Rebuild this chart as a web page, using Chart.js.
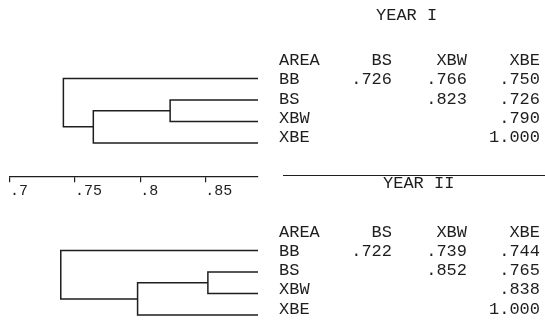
<!DOCTYPE html>
<html>
<head>
<meta charset="utf-8">
<script src="https://cdn.jsdelivr.net/npm/chart.js@4.4.1/dist/chart.umd.min.js"></script>
<style>
  html, body { margin: 0; padding: 0; background: #fff; }
  #box { width: 545px; height: 326px; }
</style>
</head>
<body>
<div id="box"><canvas id="chart" width="545" height="326"></canvas></div>
<script>
// Sampling areas, in dendrogram leaf order
const areas = ['BB', 'BS', 'XBW', 'XBE'];
const columnHeads = ['AREA', 'BS', 'XBW', 'XBE'];
const yearTitles = ['YEAR I', 'YEAR II'];

// Similarity matrices (upper triangle): rows BB..XBE, columns BS, XBW, XBE
const simYearI = [
  ['.726', '.766', '.750'],
  ['',     '.823', '.726'],
  ['',     '',     '.790'],
  ['',     '',     '1.000']
];
const simYearII = [
  ['.722', '.739', '.744'],
  ['',     '.852', '.765'],
  ['',     '',     '.838'],
  ['',     '',     '1.000']
];

// Clustering levels: BS+XBW, then +XBE, then +BB
const joinsYearI = [0.823, 0.764, 0.741];
const joinsYearII = [0.852, 0.798, 0.739];

// Similarity scale
const tickValues = [0.7, 0.75, 0.8, 0.85];
const tickLabels = ['.7', '.75', '.8', '.85'];

// Leaf rows of each dendrogram and the row the scale sits on
const firstLeafRow = [0, 8];
const scaleRow = 4.58;

const INK = '#1e1e1e';
const MONO = '"Liberation Mono", "DejaVu Sans Mono", monospace';

// One bracket per join: child A -> join level -> child B
function treeLinks(joins, r0) {
  const leaf = 1.0;
  const pairY = r0 + 1.5;
  const midY = (pairY + r0 + 3) / 2;
  return [
    [[leaf, r0 + 1], [joins[0], r0 + 1], [joins[0], r0 + 2], [leaf, r0 + 2]],
    [[joins[0], pairY], [joins[1], pairY], [joins[1], r0 + 3], [leaf, r0 + 3]],
    [[leaf, r0], [joins[2], r0], [joins[2], midY], [joins[1], midY]]
  ];
}

const links = treeLinks(joinsYearI, firstLeafRow[0]).concat(treeLinks(joinsYearII, firstLeafRow[1]));
const datasets = links.map(path => ({
  data: path.map(p => ({ x: p[0], y: p[1] })),
  showLine: true,
  borderColor: INK,
  borderWidth: 1.5,
  pointRadius: 0,
  tension: 0,
  borderJoinStyle: 'miter',
  borderCapStyle: 'butt'
}));

// Similarity tables to the right of each dendrogram
const tablePlugin = {
  id: 'simTables',
  afterDraw(chart) {
    const ctx = chart.ctx;
    ctx.save();
    ctx.fillStyle = INK;
    ctx.font = '17px ' + MONO;
    ctx.textBaseline = 'middle';
    const areaLeft = 279;
    const colRight = [0, 392, 467, 540];
    const rowGap = 19.3;
    const tables = [
      { title: yearTitles[0], tx: 376, ty: 15, top: 60.5, sims: simYearI },
      { title: yearTitles[1], tx: 383, ty: 183, top: 232, sims: simYearII }
    ];
    tables.forEach(t => {
      ctx.textAlign = 'left';
      ctx.fillText(t.title, t.tx, t.ty);
      ctx.fillText(columnHeads[0], areaLeft, t.top);
      ctx.textAlign = 'right';
      for (let c = 1; c < columnHeads.length; c++) ctx.fillText(columnHeads[c], colRight[c], t.top);
      areas.forEach((a, r) => {
        const y = t.top + (r + 1) * rowGap;
        ctx.textAlign = 'left';
        ctx.fillText(a, areaLeft, y);
        ctx.textAlign = 'right';
        t.sims[r].forEach((v, c) => { if (v) ctx.fillText(v, colRight[c + 1], y); });
      });
    });
    ctx.strokeStyle = INK;
    ctx.lineWidth = 1.2;
    ctx.beginPath();
    ctx.moveTo(283, 175.5);
    ctx.lineTo(545, 175.5);
    ctx.stroke();
    ctx.restore();
  }
};

new Chart(document.getElementById('chart'), {
  type: 'scatter',
  data: { datasets },
  options: {
    responsive: false,
    maintainAspectRatio: false,
    devicePixelRatio: 1,
    animation: false,
    events: [],
    layout: { padding: { left: 10, right: 287, top: 0, bottom: 0 } },
    plugins: { legend: { display: false }, tooltip: { enabled: false }, title: { display: false } },
    scales: {
      x: {
        type: 'linear',
        min: 0.7,
        max: 0.8905,
        position: { y: scaleRow },
        afterBuildTicks: scale => { scale.ticks = tickValues.map(v => ({ value: v })); },
        border: { display: true, color: INK, width: 1.2 },
        grid: { drawOnChartArea: false, drawTicks: true, tickLength: 5, color: INK, lineWidth: 1.2 },
        ticks: {
          align: 'start',
          padding: 0,
          maxRotation: 0,
          autoSkip: false,
          color: INK,
          font: { family: MONO, size: 15 },
          callback: (v, i) => tickLabels[i]
        }
      },
      y: {
        type: 'linear',
        reverse: true,
        min: -3.65,
        max: 11.51,
        display: false
      }
    }
  },
  plugins: [tablePlugin]
});
</script>
</body>
</html>
